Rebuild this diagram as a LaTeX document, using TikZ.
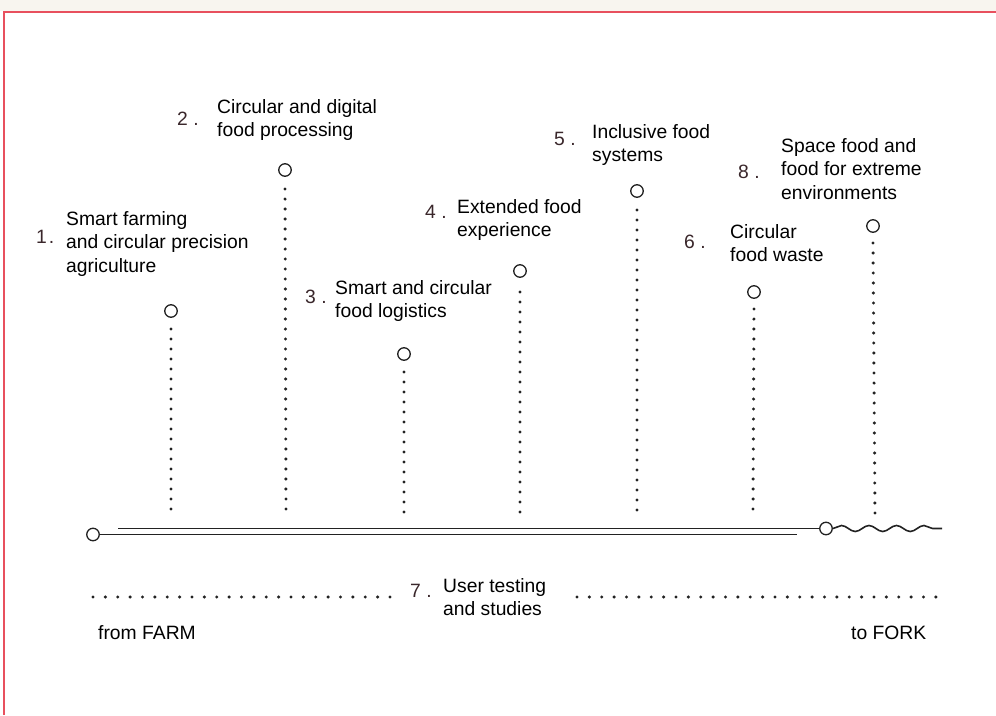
\documentclass[tikz,border=0pt]{standalone}
\usepackage{fontspec}
\setmainfont{Liberation Sans}
\usetikzlibrary{decorations.pathmorphing}
\definecolor{ink}{HTML}{222222}
\definecolor{numc}{HTML}{3A272B}
\definecolor{framec}{HTML}{E8505E}
\definecolor{strip}{HTML}{F8F5EF}
\newcommand{\mlines}[1]{\begin{tabular}[t]{@{}l@{}}#1\end{tabular}}
\newcommand{\lblfont}{\fontsize{19.3}{23.5}\selectfont}
\begin{document}
\begin{tikzpicture}[x=1pt,y=-1pt,
  lbl/.style={anchor=base west, inner sep=0pt, font=\lblfont, text=black},
  num/.style={anchor=base west, inner sep=0pt, font=\lblfont, text=numc},
  pin/.style={circle, draw=ink, line width=1.3pt, minimum size=12.5pt, inner sep=0pt, fill=white},
  dotv/.style={draw=ink, line width=3.4pt, line cap=round, dash pattern=on 0pt off 10pt},
  doth/.style={draw=ink, line width=3.4pt, line cap=round, dash pattern=on 0pt off 12.375pt},
  mainline/.style={draw=ink, line width=1.6pt}]
\useasboundingbox (0,0) rectangle (996,715);
\fill[white] (0,0) rectangle (996,715);
\fill[strip] (0,0) rectangle (996,11);
\draw[framec, line width=2pt] (3.5,715) -- (3.5,12) -- (996,12);

% pins
\node[pin] (c1) at (171,311) {};
\node[pin] (c2) at (285,170) {};
\node[pin] (c3) at (404,354) {};
\node[pin] (c4) at (520,271) {};
\node[pin] (c5) at (637,191) {};
\node[pin] (c6) at (754,292) {};
\node[pin] (c8) at (873,226) {};

\coordinate (b1) at (171,509);
\coordinate (b2) at (286,509);
\coordinate (b3) at (404,512);
\coordinate (b4) at (520,512);
\coordinate (b5) at (637,510);
\coordinate (b6) at (753,509);
\coordinate (b8) at (875,513);
\foreach \i in {1,2,3,4,5,6,8}{
  \draw[dotv] (b\i) -- ([yshift=-8pt]c\i.south);
}

% main lines
\node[pin] (L) at (93,534.5) {};
\node[pin] (R) at (826,528.5) {};
\coordinate (u0) at (118,528.5);
\coordinate (l1) at (797,534.5);
\coordinate (w1) at (942,528.5);
\draw[mainline] (u0) -- (R.west);
\draw[mainline] (L.east) -- (l1);
\draw[mainline, decorate, decoration={snake, amplitude=3pt, segment length=27.5pt}] (R.east) -- (w1);

% bottom dotted lines
\coordinate (h1) at (93,597);
\coordinate (h2) at (390,597);
\coordinate (h3) at (577,597);
\coordinate (h4) at (940,597);
\draw[doth] (h1) -- (h2);
\draw[doth] (h3) -- (h4);

% labels
\node[num] (n1) at (36,243) {1\kern2pt.};
\node[lbl] (t1) at (66,225) {\mlines{Smart farming\\and circular precision\\agriculture}};
\node[num] (n2) at (177,125) {2 .};
\node[lbl] (t2) at (217,113) {\mlines{Circular and digital\\food processing}};
\node[num] (n3) at (305,303) {3 .};
\node[lbl] (t3) at (335,294) {\mlines{Smart and circular\\food logistics}};
\node[num] (n4) at (425,218) {4 .};
\node[lbl] (t4) at (457,213) {\mlines{Extended food\\experience}};
\node[num] (n5) at (554,145) {5 .};
\node[lbl] (t5) at (592,138) {\mlines{Inclusive food\\systems}};
\node[num] (n6) at (684,248) {6 .};
\node[lbl] (t6) at (730,238) {\mlines{Circular\\food waste}};
\node[num] (n8) at (738,178) {8 .};
\node[lbl] (t8) at (781,152) {\mlines{Space food and\\food for extreme\\environments}};
\node[num] (n7) at (410,597) {7 .};
\node[lbl] (t7) at (443,592) {\mlines{User testing\\and studies}};
\node[lbl] (farm) at (98,639) {from FARM};
\node[lbl] (fork) at (851,639) {to FORK};
\end{tikzpicture}
\end{document}
